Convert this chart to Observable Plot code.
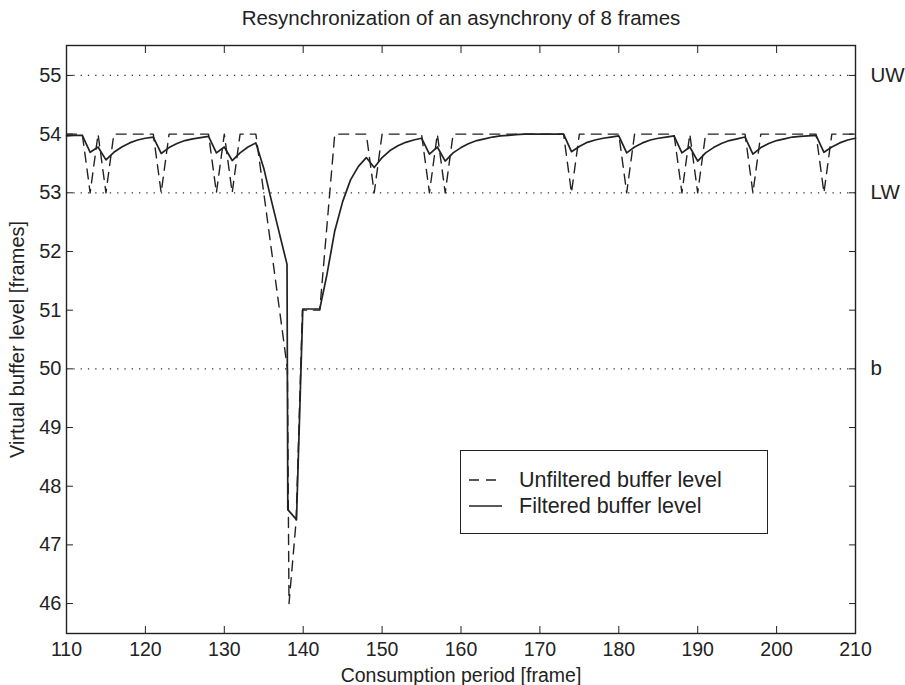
<!DOCTYPE html>
<html><head><meta charset="utf-8">
<script src="https://cdn.jsdelivr.net/npm/d3@7"></script>
<script src="https://cdn.jsdelivr.net/npm/@observablehq/plot@0.6"></script>
<style>
body{margin:0;background:#fff;font-family:"Liberation Sans",Arial,sans-serif;}
#wrap{position:relative;width:905px;height:685px;overflow:hidden;}
#title{height:40px;box-sizing:border-box;padding-top:6px;width:922px;text-align:center;font-size:20.5px;color:#222;}
#legend{position:absolute;left:460px;top:450px;width:308px;height:84px;box-sizing:border-box;border:1.3px solid #222;background:#fff;font-size:21.5px;color:#222;}
#legend .row{position:absolute;left:7px;height:24px;display:flex;align-items:center;}
#legend svg{margin-right:15px;}
</style></head><body>
<div id="wrap">
<div id="title">Resynchronization of an asynchrony of 8 frames</div>
<div id="chart"></div>
<div id="legend"></div>
</div>
<script>
const xTicks = [110,120,130,140,150,160,170,180,190,200,210];
const yTicks = [46,47,48,49,50,51,52,53,54,55];
const refValues = [55, 53, 50];
const refLabels = ["UW", "LW", "b"];
const seriesNames = ["Unfiltered buffer level", "Filtered buffer level"];

const unfFrames = [110,112,113,114,115,116,121,122,123,128,129,130,131,132,134,138,138.2,139.1,139.9,142.1,144,148,149,150,155,156,157,158,159,173,174,175,180,181,182,187,188,189,190,191,196,197,198,205,206,207,210];
const unfLevels = [54,54,53,54,53,54,54,53,54,54,53,54,53,54,54,50,46,47.4,51,51,54,54,53,54,54,53,54,53,54,54,53,54,54,53,54,54,53,54,53,54,54,53,54,54,53,54,54];

const filtFrames = [110,111,112,113,114,115,116,117,118,119,120,121,122,123,124,125,126,127,128,129,130,131,132,133,134,135,136,137,137.95,138.05,139.15,139.95,142.1,143,144,145,146,147,148,149,150,151,152,153,154,155,156,157,158,159,160,161,162,163,164,165,166,167,168,173,174,175,176,177,178,179,180,181,182,183,184,185,186,187,188,189,190,191,192,193,194,195,196,197,198,199,200,201,202,203,204,205,206,207,208,209,210];
const filtLevels = [53.97,53.98,53.98,53.69,53.78,53.56,53.69,53.78,53.85,53.9,53.93,53.95,53.67,53.77,53.84,53.89,53.92,53.94,53.96,53.68,53.78,53.55,53.68,53.78,53.85,53.42,52.85,52.3,51.78,47.6,47.43,51.02,51.02,51.6,52.35,52.85,53.22,53.45,53.6,53.43,53.6,53.72,53.8,53.86,53.9,53.93,53.66,53.78,53.54,53.68,53.77,53.84,53.89,53.92,53.95,53.97,53.98,53.99,54.0,54.0,53.7,53.79,53.86,53.9,53.93,53.95,53.97,53.68,53.78,53.85,53.9,53.93,53.95,53.97,53.68,53.78,53.54,53.68,53.77,53.84,53.89,53.92,53.95,53.66,53.77,53.84,53.89,53.92,53.95,53.96,53.97,53.98,53.69,53.78,53.85,53.9,53.93];

const unf = unfFrames.map((f, i) => ({frame: f, level: unfLevels[i]}));
const filt = filtFrames.map((f, i) => ({frame: f, level: filtLevels[i]}));
const refs = refValues.map((v, i) => ({v, label: refLabels[i]}));

const ink = "#222";
const chart = Plot.plot({
  width: 905, height: 645,
  marginTop: 5, marginBottom: 52, marginLeft: 66, marginRight: 50,
  x: {domain: [110, 210]},
  y: {domain: [45.49, 55.51]},
  style: {fontFamily: "'Liberation Sans', Arial, sans-serif", fontSize: "20px", color: ink, background: "#fff", overflow: "visible"},
  marks: [
    Plot.ruleY(refs, {y: "v", stroke: "#333", strokeDasharray: "1.3,6", strokeWidth: 1.3}),
    Plot.text(refs, {y: "v", text: "label", frameAnchor: "right", dx: 15, textAnchor: "start", fontSize: 20.5, fill: ink}),
    Plot.line(unf, {x: "frame", y: "level", stroke: ink, strokeWidth: 1.4, strokeDasharray: "10,7"}),
    Plot.line(filt, {x: "frame", y: "level", stroke: ink, strokeWidth: 1.7}),
    Plot.frame({stroke: ink, strokeWidth: 1.4}),
    Plot.axisX({ticks: xTicks, tickSize: -7, tickPadding: 16, fontSize: 19.5, label: "Consumption period [frame]", labelAnchor: "center", labelArrow: "none", labelOffset: 48}),
    Plot.axisX({anchor: "top", ticks: xTicks, tickSize: -7, tickFormat: () => "", label: null}),
    Plot.axisY({ticks: yTicks, tickSize: -7, tickPadding: 12, fontSize: 20, label: "Virtual buffer level [frames]", labelAnchor: "center", labelArrow: "none", labelOffset: 57}),
    Plot.axisY({anchor: "right", ticks: yTicks, tickSize: -7, tickFormat: () => "", label: null})
  ]
});
document.getElementById("chart").appendChild(chart);

const legend = document.getElementById("legend");
const dashes = ["10,7", null];
seriesNames.forEach((name, i) => {
  const row = document.createElement("div");
  row.className = "row";
  row.style.top = (17 + i * 26) + "px";
  row.innerHTML = `<svg width="36" height="10"><line x1="1" x2="34" y1="5" y2="5" stroke="${ink}" stroke-width="1.5" ${dashes[i] ? `stroke-dasharray="${dashes[i]}"` : ""}/></svg><span>${name}</span>`;
  legend.appendChild(row);
});
</script>
</body></html>
